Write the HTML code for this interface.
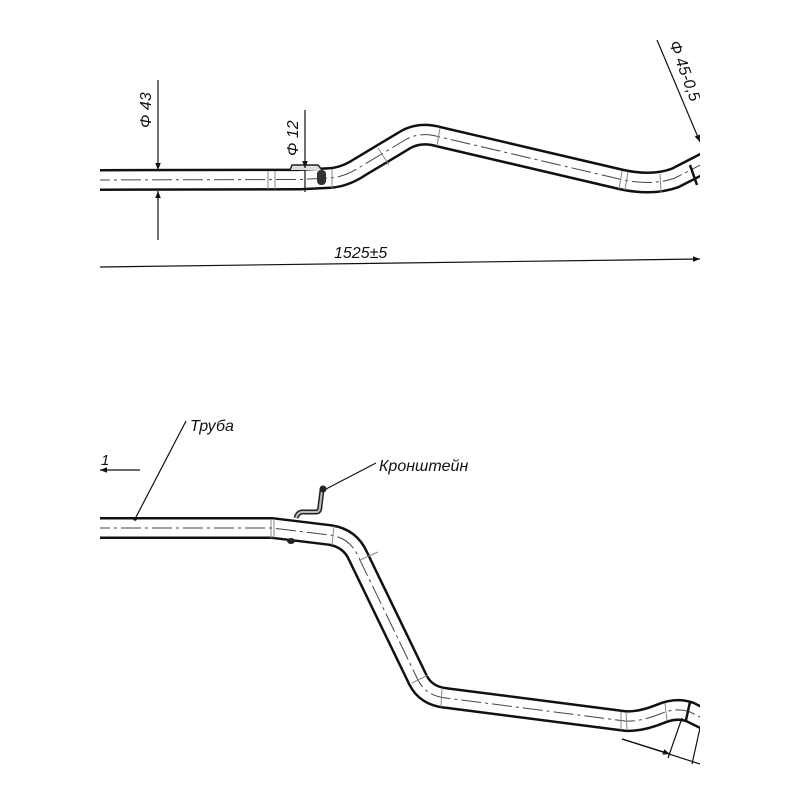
<!DOCTYPE html>
<html><head><meta charset="utf-8"><style>
html,body{margin:0;padding:0;background:#fff;}
svg{display:block;}
text{font-family:"Liberation Sans","DejaVu Sans",sans-serif;font-style:italic;fill:#111;}
</style></head><body>
<svg width="800" height="800" viewBox="0 0 800 800" xmlns="http://www.w3.org/2000/svg">
<defs>
<marker id="ar" viewBox="0 0 10 10" refX="10" refY="5" markerWidth="16" markerHeight="7" markerUnits="userSpaceOnUse" orient="auto"><path d="M0,1 L10,5 L0,9 z" fill="#111"/></marker>
<clipPath id="cp"><rect x="100" y="0" width="600" height="800"/></clipPath>
</defs>
<g clip-path="url(#cp)">
<g fill="none" stroke-linejoin="round" stroke-linecap="butt">
<path d="M90,180 L300,179.5 L330,178 Q345,177 360,167 L405,140 Q420,131 440,137 L615,178 Q650,187 675,178 L710,160" stroke="#111" stroke-width="22"/>
<path d="M90,180 L300,179.5 L330,178 Q345,177 360,167 L405,140 Q420,131 440,137 L615,178 Q650,187 675,178 L710,160" stroke="#fff" stroke-width="17"/>
<path d="M90,180 L300,179.5 L330,178 Q345,177 360,167 L405,140 Q420,131 440,137 L615,178 Q650,187 675,178 L710,160" stroke="#444" stroke-width="1" stroke-dasharray="20,4,3,4"/>
<path d="M90,528 L272,528 L330,535 Q350,538 358,556 L418,680 Q426,696 446,698 L625,721 Q640,722 660,714 Q676,707 690,712 L710,722" stroke="#111" stroke-width="22"/>
<path d="M90,528 L272,528 L330,535 Q350,538 358,556 L418,680 Q426,696 446,698 L625,721 Q640,722 660,714 Q676,707 690,712 L710,722" stroke="#fff" stroke-width="17"/>
<path d="M90,528 L272,528 L330,535 Q350,538 358,556 L418,680 Q426,696 446,698 L625,721 Q640,722 660,714 Q676,707 690,712 L710,722" stroke="#444" stroke-width="1" stroke-dasharray="20,4,3,4"/>
</g>
<g stroke="#888" stroke-width="1">
<line x1="268" y1="171" x2="268" y2="189"/><line x1="275" y1="171" x2="275" y2="189"/>
<line x1="332" y1="169" x2="332" y2="188"/>
<line x1="378" y1="148" x2="389" y2="165"/><line x1="440" y1="128" x2="437" y2="146"/>
<line x1="622" y1="171" x2="619" y2="189"/><line x1="628" y1="172" x2="625" y2="190"/>
<line x1="660" y1="174" x2="661" y2="192"/>
<line x1="271" y1="519" x2="271" y2="538"/><line x1="274" y1="519" x2="274" y2="538"/>
<line x1="334" y1="526" x2="332" y2="545"/>
<line x1="360" y1="560" x2="378" y2="552"/>
<line x1="412" y1="683" x2="428" y2="675"/>
<line x1="442" y1="688" x2="441" y2="707"/>
<line x1="621" y1="712" x2="621" y2="730"/><line x1="626" y1="712" x2="627" y2="730"/>
<line x1="665" y1="703" x2="667" y2="721"/>
</g>
<line x1="690" y1="165" x2="697" y2="185" stroke="#111" stroke-width="2.5"/>
<line x1="690" y1="702" x2="686" y2="720" stroke="#111" stroke-width="2.5"/>
<path d="M290,170 L292,165 L318,165 L322,170" fill="#ddd" stroke="#222" stroke-width="1.5"/>
<rect x="317" y="170" width="9" height="15" rx="4" fill="#333"/>
<path d="M296,518 Q298,511 305,512 L316,512 Q320,512 320,506 L322,490" fill="none" stroke="#222" stroke-width="5"/>
<path d="M296,518 Q298,511 305,512 L316,512 Q320,512 320,506 L322,490" fill="none" stroke="#bbb" stroke-width="2"/>
<circle cx="323" cy="489" r="3.5" fill="#222"/>
<ellipse cx="291" cy="541" rx="4" ry="3" fill="#222"/>
<g stroke="#111" stroke-width="1.2" fill="none">
<line x1="158" y1="80" x2="158" y2="170" marker-end="url(#ar)"/>
<line x1="158" y1="240" x2="158" y2="191" marker-end="url(#ar)"/>
<line x1="305" y1="110" x2="305" y2="168" marker-end="url(#ar)"/>
<line x1="305" y1="192" x2="305" y2="170"/>
<line x1="100" y1="267" x2="700" y2="259" marker-end="url(#ar)"/>
<line x1="657" y1="40" x2="700" y2="142" marker-end="url(#ar)"/>
<line x1="186" y1="421" x2="135" y2="519"/>
<line x1="376" y1="463" x2="326" y2="489"/>
<line x1="140" y1="470" x2="100" y2="470" marker-end="url(#ar)"/>
<line x1="622" y1="739" x2="700" y2="764"/>
<line x1="622" y1="739" x2="670" y2="754" marker-end="url(#ar)"/>
<line x1="682" y1="718" x2="668" y2="758"/>
<line x1="700" y1="728" x2="692" y2="764"/>
</g>
<circle cx="135" cy="519" r="1.8" fill="#111"/>
</g>
<text x="0" y="0" font-size="16" transform="translate(151,128) rotate(-90)">Φ 43</text>
<text x="0" y="0" font-size="16" transform="translate(298,156) rotate(-90)">Φ 12</text>
<text x="334" y="258" font-size="16">1525±5</text>
<text x="0" y="0" font-size="16" transform="translate(669,43) rotate(70)">Φ 45-0,5</text>
<text x="190" y="431" font-size="16">Труба</text>
<text x="379" y="471" font-size="16">Кронштейн</text>
<text x="101" y="465" font-size="15">1</text>
<rect x="700" y="0" width="100" height="800" fill="#fff"/>
</svg>
</body></html>
